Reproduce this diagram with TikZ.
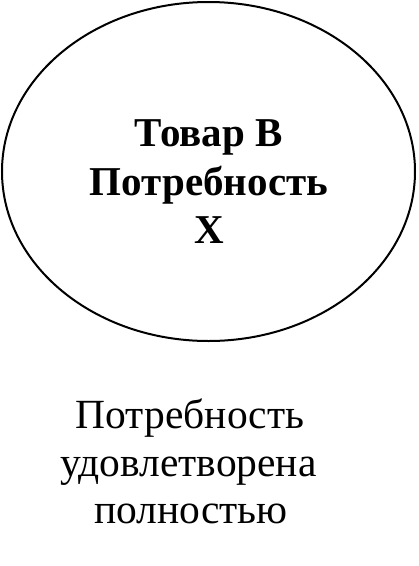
\documentclass[tikz,border=0pt]{standalone}
\usepackage{fontspec}
\setmainfont{Liberation Serif}
\usetikzlibrary{shapes.geometric}
\begin{document}
\begin{tikzpicture}[x=1pt,y=-1pt,
  oval/.style={draw,line width=2pt,ellipse,minimum width=413pt,minimum height=339pt,inner sep=0pt},
  boldtxt/.style={anchor=base,inner sep=0pt,font=\fontsize{41}{48}\selectfont\bfseries},
  plaintxt/.style={anchor=base,inner sep=0pt,font=\fontsize{41.5}{48}\selectfont}]
\useasboundingbox (0,0) rectangle (419,566);
\node[oval] (e) at (208.5,171.5) {};
\node[boldtxt] (t1) at (208.5,146) {Товар В};
\node[boldtxt] (t2) at (209,195) {Потребность};
\node[boldtxt] (t3) at (209,243) {Х};
\node[plaintxt] (b1) at (190,428) {Потребность};
\node[plaintxt] (b2) at (188.5,476) {удовлетворена};
\node[plaintxt] (b3) at (191,523) {полностью};
\end{tikzpicture}
\end{document}
